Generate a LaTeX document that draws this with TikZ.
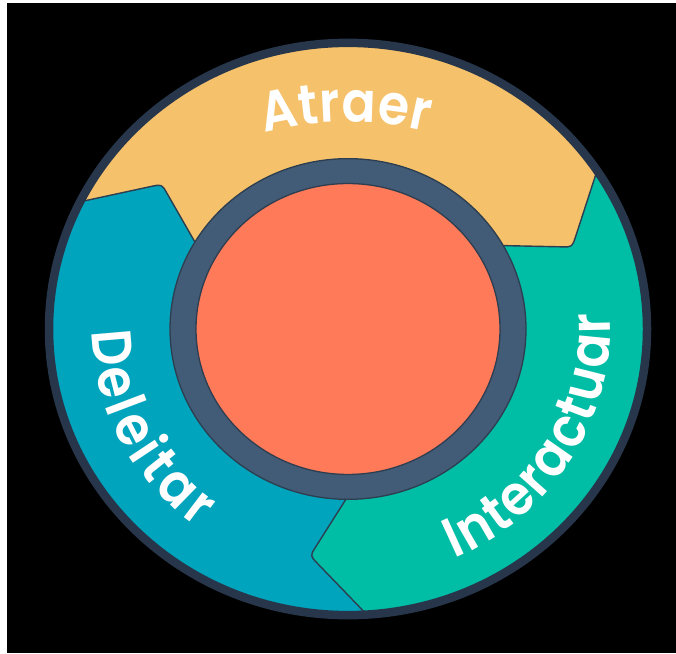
\documentclass[tikz,border=0pt]{standalone}
\usepackage{fontspec}
\setmainfont{Poppins}
\newfontfamily\labfont[FakeStretch=0.9, UprightFont=* SemiBold]{Poppins}
\usetikzlibrary{calc,decorations.text}
\definecolor{cyellow}{HTML}{F5C26B}
\definecolor{cteal}{HTML}{00BDA5}
\definecolor{cblue}{HTML}{00A4BD}
\definecolor{corange}{HTML}{FF7A59}
\definecolor{cring}{HTML}{425B76}
\definecolor{coutline}{HTML}{2D3E50}
\definecolor{cborder}{HTML}{27364A}
\newcommand{\dfont}{\fontsize{56}{56}\selectfont\labfont\color{white}}
\tikzset{
  segline/.style={draw=coutline, line width=1.4pt},
  ringline/.style={draw=coutline, line width=1.3pt},
  labeltext/.style={decorate, decoration={text along path, text align={fit to path}, text={|\dfont|#1}}}
}
\begin{document}
\begin{tikzpicture}[x=1pt,y=1pt]
\useasboundingbox (0,0) rectangle (676,653);
\fill[white] (0,0) rectangle (676,653);
\fill[black] (7,0) rectangle (676,650);
\begin{scope}[shift={(348,324)}, yscale=0.957]
  \foreach \n/\a in {Y/33.6, T/-86.4, B/153.6} {
    \coordinate (\n o) at (\a:299);
    \coordinate (\n t) at (\a-12.7:240);
    \coordinate (\n i) at (\a-3.7:175);
    \coordinate (\n a) at ($(\n t)!0.14!(\n o)$);
    \coordinate (\n b) at ($(\n t)!0.14!(\n i)$);
  }
  % yellow: Atraer
  \fill[cyellow] (Bo) arc[start angle=153.6, end angle=33.6, radius=299]
     -- (Ya) .. controls (Yt) .. (Yb) -- (Yi)
     arc[start angle=29.9, end angle=149.9, radius=175]
     -- (Bb) .. controls (Bt) .. (Ba) -- cycle;
  % teal: Interactuar
  \fill[cteal] (Yo) arc[start angle=33.6, end angle=-86.4, radius=299]
     -- (Ta) .. controls (Tt) .. (Tb) -- (Ti)
     arc[start angle=-90.1, end angle=29.9, radius=175]
     -- (Yb) .. controls (Yt) .. (Ya) -- cycle;
  % blue: Deleitar
  \fill[cblue] (To) arc[start angle=-86.4, end angle=-206.4, radius=299]
     -- (Ba) .. controls (Bt) .. (Bb) -- (Bi)
     arc[start angle=-210.1, end angle=-90.1, radius=175]
     -- (Tb) .. controls (Tt) .. (Ta) -- cycle;
  \foreach \n in {Y,T,B} {
    \draw[segline] (\n o) -- (\n a) .. controls (\n t) .. (\n b) -- (\n i);
  }
  \draw[cborder, line width=8.5pt] (0,0) circle[radius=299];
  \fill[cring] (0,0) circle[radius=178];
  \draw[ringline] (0,0) circle[radius=178];
  \fill[corange] (0,0) circle[radius=152];
  \draw[ringline] (0,0) circle[radius=152];
\end{scope}
\path[labeltext={Atraer}] (348,201) ++(104.6:330) arc[start angle=104.6, end angle=76.0, radius=330];
\path[labeltext={Deleitar}] (348,324) ++(180.5:256 and 245) arc[start angle=180.5, end angle=234, x radius=256, y radius=245];
\path[labeltext={Interactuar}] (348,324) ++(-66:262 and 251) arc[start angle=-66, end angle=3.5, x radius=262, y radius=251];
\end{tikzpicture}
\end{document}
